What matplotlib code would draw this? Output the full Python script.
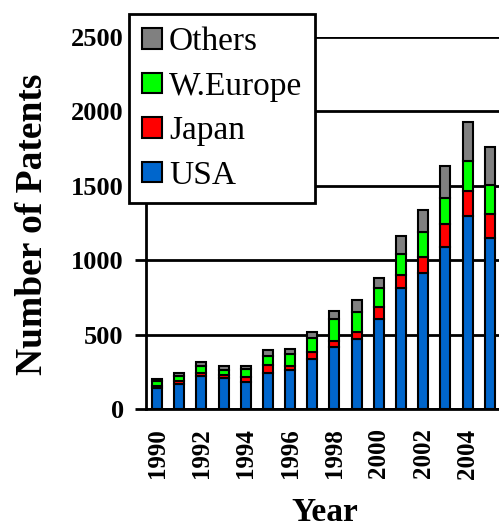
import matplotlib
matplotlib.use("Agg")
import matplotlib.pyplot as plt
import numpy as np

plt.rcParams['font.family'] = ['Liberation Serif', 'DejaVu Serif']

# patents per year, stacked by region
years = [1990, 1991, 1992, 1993, 1994, 1995, 1996, 1997,
         1998, 1999, 2000, 2001, 2002, 2003, 2004, 2005]
usa = [140, 170, 220, 210, 180, 245, 262, 335,
       420, 470, 605, 810, 915, 1090, 1295, 1150]
japan = [12, 15, 22, 20, 35, 50, 30, 45,
         40, 50, 80, 90, 105, 150, 170, 160]
weurope = [33, 35, 45, 30, 55, 60, 75, 95,
           145, 135, 125, 140, 170, 180, 200, 195]
others = [15, 20, 30, 30, 20, 40, 35, 40,
          55, 80, 70, 120, 145, 215, 265, 255]

series = [("USA", usa, "#0066CC"),
          ("Japan", japan, "#FF0000"),
          ("W.Europe", weurope, "#00FF00"),
          ("Others", others, "#808080")]

fig = plt.figure(figsize=(4.99, 5.29), dpi=100)
# axes run slightly past the right edge, as in the original crop
ax = fig.add_axes([146/499, 120/529, 357/499, 372/529])

bottom = np.zeros(len(years))
handles = []
for name, vals, col in series:
    b = ax.bar(years, vals, width=0.45, bottom=bottom, color=col,
               edgecolor='black', linewidth=1.5, label=name, zorder=3)
    handles.append(b)
    bottom += np.array(vals)

ax.set_xlim(1989.5, 2005.6)
ax.set_ylim(0, 2500)
ax.set_yticks([0, 500, 1000, 1500, 2000, 2500])
ax.set_xticks(range(1990, 2006, 2))
ax.set_xticklabels([str(y) for y in range(1990, 2006, 2)], rotation=90,
                   fontweight='bold', fontsize=18)
ax.set_yticklabels(["0", "500", "1000", "1500", "2000", "2500"],
                   fontweight='bold', fontsize=19)

ax.yaxis.grid(True, color='black', linewidth=2, zorder=0)
ax.set_axisbelow(True)
ax.tick_params(axis='y', length=8, width=2, direction='out', pad=8)
ax.tick_params(axis='x', length=0, pad=14)
for s in ['top', 'right']:
    ax.spines[s].set_visible(False)
for s in ['left', 'bottom']:
    ax.spines[s].set_linewidth(2)

fig.text(41.7/499, 1 - 224/529, "Number of Patents", rotation=90,
         rotation_mode='anchor', ha='center', va='baseline',
         fontsize=27, fontweight='bold')
fig.text(325/499, 8/529, "Year", ha='center', va='baseline',
         fontsize=24, fontweight='bold')

leg = fig.legend(handles[::-1], [s[0] for s in series][::-1],
                 loc='upper left', bbox_to_anchor=(129/499, 1 - 14/529),
                 borderaxespad=0, fontsize=24, handlelength=0.62,
                 handleheight=0.57, handletextpad=0.2, labelspacing=0.42,
                 borderpad=0.38, fancybox=False, framealpha=1,
                 edgecolor='black')
leg.get_frame().set_linewidth(2)
for p in leg.get_patches():
    p.set_linewidth(1.5)

fig.savefig("out.png", dpi=100)
